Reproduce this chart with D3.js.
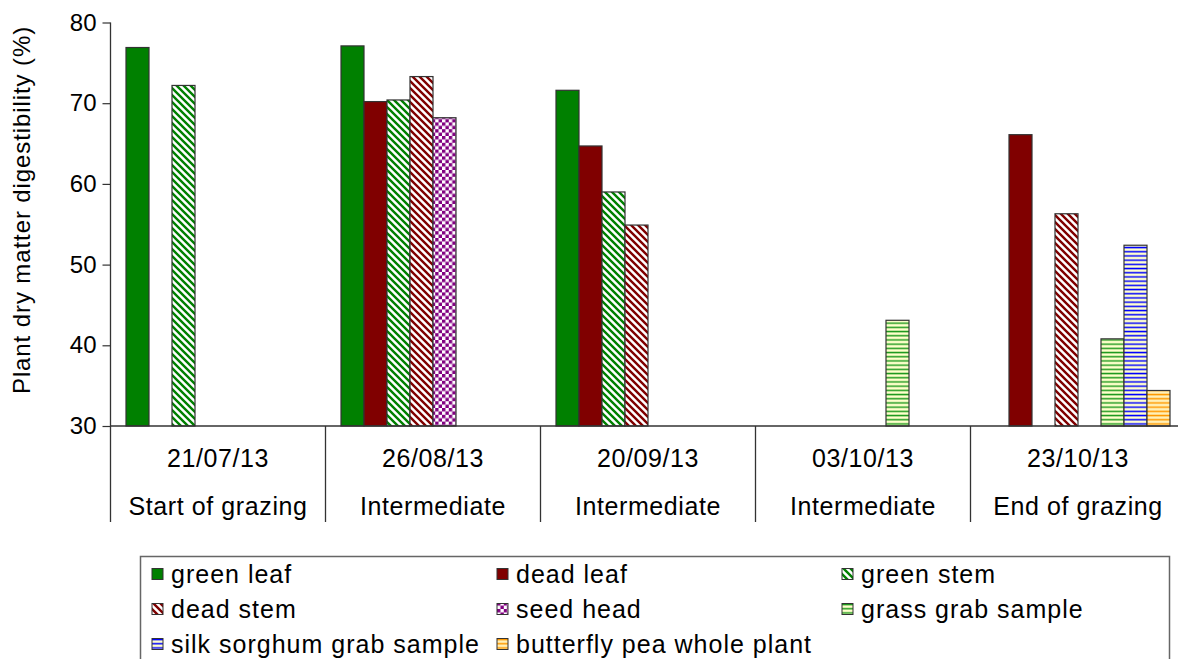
<!DOCTYPE html>
<html>
<head>
<meta charset="utf-8">
<script src="https://cdn.jsdelivr.net/npm/d3@7"></script>
<style>
  html, body { margin: 0; padding: 0; background: #fff; }
  svg { display: block; font-family: "Liberation Sans", Arial, sans-serif; }
</style>
</head>
<body>
<svg id="chart" width="1178" height="659"></svg>
<script>
// ---- data ----
const dates = ["21/07/13", "26/08/13", "20/09/13", "03/10/13", "23/10/13"];
const stages = ["Start of grazing", "Intermediate", "Intermediate", "Intermediate", "End of grazing"];
const seriesNames = ["green leaf", "dead leaf", "green stem", "dead stem", "seed head",
  "grass grab sample", "silk sorghum grab sample", "butterfly pea whole plant"];
const greenLeaf   = [76.9, 77.1, 71.6, null, null];
const deadLeaf    = [30.0, 70.2, 64.7, null, 66.1];
const greenStem   = [72.2, 70.4, 59.0, null, null];
const deadStem    = [null, 73.3, 54.9, null, 56.3];
const seedHead    = [null, 68.2, null, null, null];
const grassGrab   = [null, null, null, 43.1, 40.8];
const silkSorghum = [null, null, null, null, 52.4];
const butterflyPea= [null, null, null, null, 34.4];
const yTicks = [30, 40, 50, 60, 70, 80];
const yLabel = "Plant dry matter digestibility (%)";

const seriesValues = [greenLeaf, deadLeaf, greenStem, deadStem, seedHead, grassGrab, silkSorghum, butterflyPea];

// ---- layout ----
const svg = d3.select("#chart");
const plotL = 110.5, plotR = 1185.5, plotT = 22.5, plotB = 426;
const fontSize = 25;

const x0 = d3.scaleBand().domain(d3.range(dates.length)).range([plotL, plotR]).padding(0);
const x1 = d3.scaleBand().domain(d3.range(seriesNames.length))
  .range([0, x0.bandwidth()]).paddingInner(0).paddingOuter(0.674);
const y = d3.scaleLinear().domain([30, 80]).range([plotB, plotT]);

// ---- patterns ----
const defs = svg.append("defs");
function diag(id, color) {
  const s = 7;
  const p = defs.append("pattern").attr("id", id).attr("patternUnits", "userSpaceOnUse")
    .attr("width", s).attr("height", s);
  p.append("rect").attr("width", s).attr("height", s).attr("fill", "#fff");
  p.append("path").attr("d", `M${-s/2},${s/2} L${s/2},${1.5*s} M0,0 L${s},${s} M${s/2},${-s/2} L${1.5*s},${s/2}`)
    .attr("stroke", color).attr("stroke-width", 2.4).attr("fill", "none");
}
diag("pGreenStem", "#008000");
diag("pDeadStem", "#800000");
{
  const c = 3.4;
  const p = defs.append("pattern").attr("id", "pSeed").attr("patternUnits", "userSpaceOnUse")
    .attr("width", 2 * c).attr("height", 2 * c);
  p.append("rect").attr("width", 2 * c).attr("height", 2 * c).attr("fill", "#fff");
  p.append("rect").attr("x", 0).attr("y", 0).attr("width", c).attr("height", c).attr("fill", "#800080");
  p.append("rect").attr("x", c).attr("y", c).attr("width", c).attr("height", c).attr("fill", "#800080");
}
function horiz(id, color, bg) {
  const p = defs.append("pattern").attr("id", id).attr("patternUnits", "userSpaceOnUse")
    .attr("width", 6).attr("height", 4.2).attr("y", plotB);
  p.append("rect").attr("width", 6).attr("height", 4.2).attr("fill", bg);
  p.append("rect").attr("y", 1.4).attr("width", 6).attr("height", 1.5).attr("fill", color);
}
horiz("pGrass", "#1f9a1f", "#FFFFCC");
horiz("pSilk", "#0000FF", "#FFFFCC");
horiz("pPea", "#FF9900", "#FFF0B8");

const fills = ["#008000", "#800000", "url(#pGreenStem)", "url(#pDeadStem)", "url(#pSeed)",
  "url(#pGrass)", "url(#pSilk)", "url(#pPea)"];
const baseColors = ["#008000", "#800000", "#008000", "#800000", "#800080", "#1f9a1f", "#0000FF", "#FF9900"];

// ---- bars ----
const bars = [];
seriesValues.forEach((vals, si) => {
  vals.forEach((v, ci) => { if (v !== null) bars.push({ si, ci, v }); });
});
svg.append("g").selectAll("rect").data(bars).join("rect")
  .attr("x", d => x0(d.ci) + x1(d.si))
  .attr("y", d => y(d.v))
  .attr("width", x1.bandwidth())
  .attr("height", d => y(30) - y(d.v))
  .attr("fill", d => fills[d.si])
  .attr("stroke", d => (y(30) - y(d.v)) < 0.5 ? baseColors[d.si] : "#333")
  .attr("stroke-width", d => (y(30) - y(d.v)) < 0.5 ? 2 : 1.2);

// ---- y axis ----
const axisColor = "#333";
const yAxis = svg.append("g").attr("transform", `translate(${plotL},0)`)
  .call(d3.axisLeft(y).tickValues(yTicks).tickSize(8).tickPadding(6).tickFormat(d3.format("d")));
yAxis.select(".domain").remove();
yAxis.selectAll(".tick line").attr("stroke", axisColor).attr("stroke-width", 1.2);
yAxis.selectAll(".tick text").attr("font-size", 24).attr("fill", "#000")
  .attr("font-family", "Liberation Sans, Arial, sans-serif");
svg.append("line").attr("x1", plotL).attr("x2", plotL).attr("y1", plotT).attr("y2", 522)
  .attr("stroke", axisColor).attr("stroke-width", 1.3);

// ---- x axis (category table) ----
svg.append("line").attr("x1", plotL).attr("x2", plotR).attr("y1", plotB).attr("y2", plotB)
  .attr("stroke", axisColor).attr("stroke-width", 1.3);
const seps = d3.range(1, dates.length + 1).map(i => x0(i - 1) + x0.bandwidth());
svg.append("g").selectAll("line").data(seps).join("line")
  .attr("x1", d => d).attr("x2", d => d).attr("y1", plotB).attr("y2", 522)
  .attr("stroke", axisColor).attr("stroke-width", 1.3);
const cat = svg.append("g").attr("font-size", fontSize).attr("text-anchor", "middle")
  .attr("letter-spacing", "0.6px");
cat.selectAll("text.date").data(dates).join("text").attr("class", "date")
  .attr("x", (d, i) => x0(i) + x0.bandwidth() / 2).attr("y", 467).text(d => d);
cat.selectAll("text.stage").data(stages).join("text").attr("class", "stage")
  .attr("x", (d, i) => x0(i) + x0.bandwidth() / 2).attr("y", 515).text(d => d);

// ---- y label ----
svg.append("text").attr("transform", `translate(30,210) rotate(-90)`)
  .attr("text-anchor", "middle").attr("font-size", 24).attr("letter-spacing", "0.9px")
  .text(yLabel);

// ---- legend ----
svg.append("rect").attr("x", 140.5).attr("y", 556.5).attr("width", 1029).attr("height", 140)
  .attr("fill", "#fff").attr("stroke", "#666").attr("stroke-width", 1.5);
const legCols = [152, 497, 842], legRows = [574, 609, 644];
const leg = svg.append("g").selectAll("g").data(seriesNames).join("g")
  .attr("transform", (d, i) => `translate(${legCols[i % 3]},${legRows[Math.floor(i / 3)]})`);
leg.append("rect").attr("x", 0).attr("y", -5.5).attr("width", 11).attr("height", 11)
  .attr("fill", (d, i) => fills[i]).attr("stroke", "#333").attr("stroke-width", 1);
leg.append("text").attr("x", 19).attr("y", 8.5).attr("font-size", fontSize)
  .attr("letter-spacing", "1px").text(d => d);
</script>
</body>
</html>
